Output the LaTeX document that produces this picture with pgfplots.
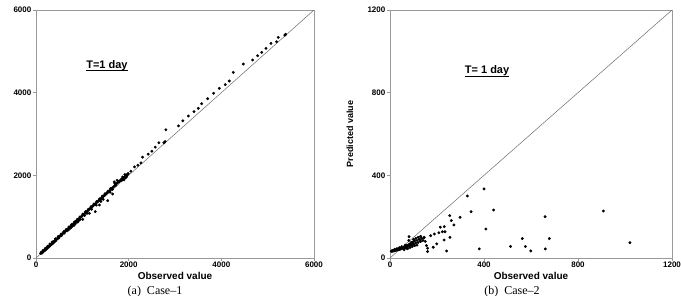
\documentclass[border=0pt]{standalone}
\usepackage{fontspec}
\setmainfont{Liberation Sans}
\newfontfamily\capfont{Liberation Serif}
\usepackage{pgfplots}
\pgfplotsset{compat=1.18}
\pgfplotsset{
  myax/.style={
    scale only axis,
    height=248pt,
    axis line style={gray!80, line width=0.5pt},
    tick style={gray!80, line width=0.5pt},
    tick align=outside,
    major tick length=3pt,
    xtick pos=bottom, ytick pos=left,
    /pgf/number format/assume math mode=true,
    /pgf/number format/1000 sep={},
    ticklabel style={font=\fontsize{8}{9}\selectfont\bfseries},
    xticklabel style={inner sep=1pt},
    yticklabel style={inner sep=1.5pt},
    xlabel style={font=\fontsize{10}{11}\selectfont\bfseries, at={(axis description cs:0.5,-0.073)}, anchor=center},
    ylabel style={font=\fontsize{9}{10}\selectfont\bfseries},
    clip=false,
  },
  dots/.style={only marks, mark=*, mark size=1.25pt, black, mark options={fill=black, draw=black}},
}
\newcommand{\ul}[1]{\underline{\raisebox{0pt}[\height][1.2pt]{#1}}}
\begin{document}
\begin{tikzpicture}
\useasboundingbox (0,0) rectangle (681pt,296pt);
% ---------- Case-1 ----------
\begin{axis}[myax,
  at={(36pt,38pt)}, anchor=south west, width=278pt,
  xmin=0, xmax=6000, ymin=0, ymax=6000,
  xtick={0,2000,4000,6000}, ytick={0,2000,4000,6000},
  xlabel={Observed value},
]
\addplot[gray!85!black, line width=0.5pt] coordinates {(0,0) (6000,6000)};
\addplot[dots] coordinates {
(100,110)(120,125)(140,150)(150,155)(170,178)(180,185)(200,205)(210,222)(230,238)(240,245)
(260,270)(270,275)(290,300)(300,305)(320,330)(330,335)(350,362)(360,365)(380,392)(390,395)
(410,420)(420,430)(440,452)(450,458)(470,482)(480,490)(500,512)(520,530)(540,552)(560,575)
(580,592)(600,615)(620,632)(640,655)(660,675)(680,695)(700,716)(720,735)(740,758)(760,780)
(780,795)(800,820)(820,842)(840,860)(860,880)(880,900)(900,925)(920,940)(940,965)(960,985)
(980,1000)(1000,1025)(1020,1045)(1040,1065)(1060,1088)(1080,1105)(1100,1130)(1120,1150)
(1140,1170)(1160,1190)(1180,1210)(1200,1232)(1220,1250)(1240,1275)(1260,1295)(1280,1310)
(1300,1335)(1320,1355)(1340,1375)(1360,1395)(1380,1418)(1400,1435)(1420,1460)(1440,1478)
(1460,1500)(1480,1520)(1500,1540)(1520,1560)(1540,1585)(1560,1600)(1580,1625)(1600,1645)
(1620,1665)(1640,1690)(1660,1705)(1680,1730)(1700,1750)(1720,1770)(1740,1800)(1760,1820)
(1780,1840)(1800,1855)(1820,1880)(1840,1900)(1860,1920)(1880,1935)(1900,1950)(1920,1975)
(1940,1995)(1960,2010)(1980,2030)
(130,120)(160,150)(190,180)(220,210)(250,240)(280,270)(310,300)(340,330)(370,360)(400,390)
(110,140)(150,185)(200,235)(250,285)(300,340)(350,390)(420,465)(480,525)(540,580)(600,640)
(650,690)(710,750)(770,810)(830,875)(890,935)(950,995)(1010,1060)(1070,1120)(1130,1180)
(1190,1245)(1250,1305)(1310,1370)(1370,1430)(1430,1495)(1490,1555)(1550,1615)(1610,1680)
(430,420)(490,480)(550,540)(610,600)(670,655)(730,715)(790,775)(950,930)(1050,1030)
(700,680)(760,740)(820,790)(850,830)(900,870)(921,903)(1007,935)(1151,1081)(1280,1121)
(1367,1282)(1547,1387)(1655,1548)(1725,1760)(1689,1841)(1750,1880)(1700,1810)(1850,1880)
(1880,1900)(1950,1960)(1900,1890)(1930,1940)(1100,1080)(1200,1180)(1300,1280)(1400,1370)
(1450,1420)(1600,1590)(1650,1660)(1870,1960)(1920,2020)(1960,1990)
(1990,2043)(2048,2100)(2127,2204)(2199,2245)(2264,2301)(2300,2439)(2422,2511)(2501,2584)
(2573,2681)(2652,2786)(2760,2786)(2788,2818)(2803,3101)(3076,3198)(3169,3319)(3287,3435)
(3410,3540)(3503,3621)(3576,3733)(3705,3854)(3834,3984)(3956,4105)(4085,4193)(4171,4282)
(4258,4492)(4474,4693)(4676,4790)(4784,4894)(4871,4975)(4963,5072)(5071,5193)(5194,5233)
(5229,5338)(5388,5411)(5370,5390)
};
\node[font=\fontsize{11}{12}\selectfont\bfseries] at (axis cs:1532,4652) {\ul{T=1 day}};
\end{axis}
% ---------- Case-2 ----------
\begin{axis}[myax,
  at={(390pt,38pt)}, anchor=south west, width=282pt,
  xmin=0, xmax=1200, ymin=0, ymax=1200,
  xtick={0,400,800,1200}, ytick={0,400,800,1200},
  xlabel={Observed value},
  ylabel={Predicted value},
  ylabel style={at={(axis description cs:-0.142,0.5)}, anchor=center},
]
\addplot[gray!85!black, line width=0.5pt] coordinates {(0,0) (1200,1200)};
\addplot[dots] coordinates {
(5,32)(8,35)(10,33)(12,36)(15,34)(18,38)(20,35)(22,40)(25,37)(28,41)(30,38)(32,42)(35,40)
(38,44)(40,41)(42,46)(45,43)(48,47)(50,45)(52,50)(55,47)(58,52)(60,49)(62,55)(65,51)(68,57)
(70,53)(72,60)(75,55)(78,63)(80,58)(82,66)(85,60)(88,70)(90,62)(92,74)(95,65)(98,78)(100,68)
(105,82)(110,72)(115,85)(120,75)(125,90)(130,80)(135,95)(140,85)(145,98)(150,80)(155,60)
(75,45)(85,50)(95,55)(105,60)(115,62)(60,40)(70,48)(90,75)(100,90)(120,100)(130,105)
(145,100)(110,95)(80,85)(65,62)(50,55)(40,50)(30,45)(20,42)
(329,300)(400,334)(441,232)(345,224)(408,140)(380,44)(254,205)(298,197)(261,181)(272,160)
(214,149)(231,152)(223,127)(234,127)(208,122)(255,100)(230,87)(241,34)(189,116)(173,108)
(199,68)(160,47)(160,31)(184,52)(81,103)
(908,227)(1021,74)(660,200)(678,94)(563,94)(576,56)(513,56)(599,34)(661,44)
};
\node[font=\fontsize{11}{12}\selectfont\bfseries] at (axis cs:413,905) {\ul{T= 1 day}};
\end{axis}
% captions
\node[anchor=base, font=\capfont\fontsize{12}{13}\selectfont] at (155pt,1.5pt) {(a)\ \ Case–1};
\node[anchor=base, font=\capfont\fontsize{12}{13}\selectfont] at (512pt,1.5pt) {(b)\ \ Case–2};
\end{tikzpicture}
\end{document}
